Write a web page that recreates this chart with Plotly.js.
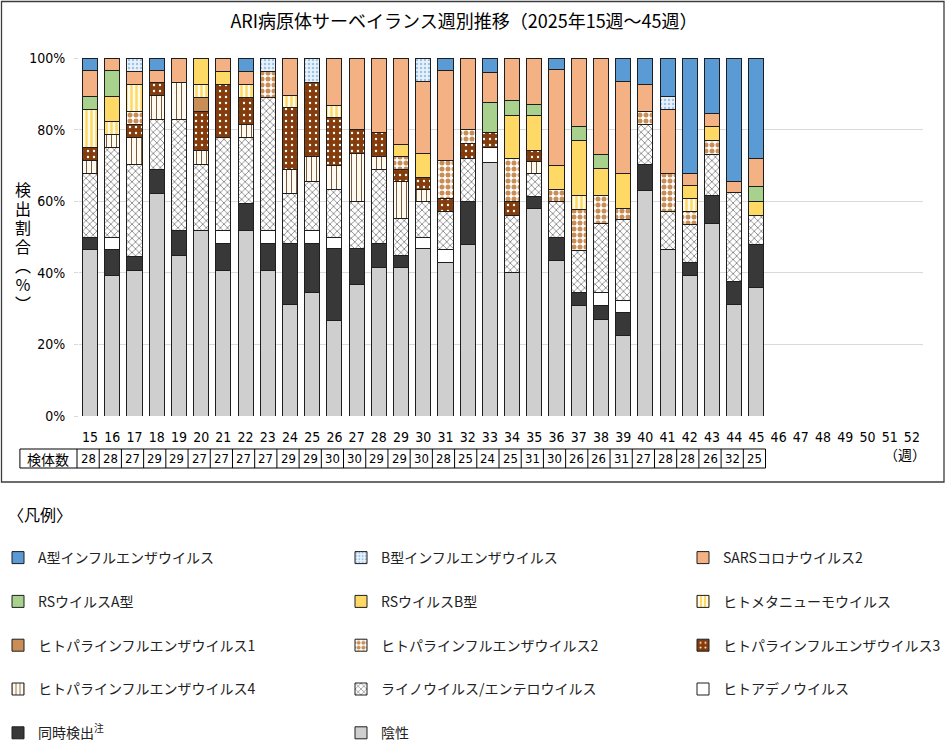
<!DOCTYPE html>
<html>
<head>
<meta charset="utf-8">
<script src="https://cdn.plot.ly/plotly-3.0.1.min.js"></script>
<style>
  html, body { margin: 0; padding: 0; background: #ffffff; }
  #chart { width: 946px; height: 746px; }
</style>
</head>
<body>
<div id="chart"></div>
<script>
// ---- data (counts of specimens per week) ----
const weeks = [15,16,17,18,19,20,21,22,23,24,25,26,27,28,29,30,31,32,33,34,35,36,37,38,39,40,41,42,43,44,45];
const weekTicks = [15,16,17,18,19,20,21,22,23,24,25,26,27,28,29,30,31,32,33,34,35,36,37,38,39,40,41,42,43,44,45,46,47,48,49,50,51,52];
const specimenCounts = [28,28,27,29,29,27,27,27,27,29,29,30,30,29,29,30,28,25,24,25,31,30,26,26,31,27,28,28,26,32,25];
const yTickVals = [0, 20, 40, 60, 80, 100];
const yTickText = ['0%', '20%', '40%', '60%', '80%', '100%'];

const fluA      = [1,0,0,1,0,0,0,1,0,0,0,0,0,0,0,0,1,0,1,0,0,1,0,0,2,2,3,9,4,11,7];
const fluB      = [0,0,1,0,0,0,0,0,1,0,2,0,0,0,0,2,0,0,0,0,0,0,0,0,0,0,1,0,0,0,0];
const sars2     = [2,1,1,1,2,0,1,1,0,3,0,4,6,6,7,6,7,5,2,3,4,8,5,7,8,2,5,1,1,1,2];
const rsvA      = [1,2,0,0,0,0,0,0,0,0,0,0,0,0,0,0,0,0,2,1,1,0,1,1,0,0,0,0,0,0,1];
const rsvB      = [0,2,0,0,0,2,1,0,0,0,0,0,0,0,1,2,0,0,0,3,3,2,4,2,3,0,0,1,1,0,1];
const hmpv      = [3,1,2,0,0,1,0,1,0,1,0,1,0,0,0,0,0,0,0,0,0,0,1,0,0,0,0,1,0,0,0];
const para1     = [0,0,0,0,0,1,0,0,0,0,0,0,0,0,0,0,0,0,0,0,0,0,0,0,0,0,0,0,0,0,0];
const para2     = [0,0,1,0,0,0,0,0,2,0,0,0,0,0,1,0,3,1,0,3,0,1,3,2,1,1,3,1,1,0,0];
const para3     = [1,0,1,1,0,3,4,2,0,5,6,4,2,2,1,1,1,1,1,1,1,0,0,0,0,0,0,0,0,0,0];
const para4     = [1,1,2,2,3,1,0,1,0,2,2,2,4,1,3,1,0,0,0,0,1,0,0,0,0,0,0,0,0,0,0];
const rhinoEntero = [5,7,7,4,9,5,7,5,10,4,4,4,4,6,3,3,3,3,0,4,2,3,3,5,7,3,3,3,3,8,2];
const adeno     = [0,1,0,0,0,0,1,0,1,0,1,1,0,0,0,1,1,0,1,0,0,0,0,1,1,0,0,0,0,0,0];
const coDetect  = [1,2,1,2,2,0,2,2,2,5,4,6,3,2,1,0,0,3,0,0,1,2,1,1,2,2,0,1,2,2,3];
const negative  = [13,11,11,18,13,14,11,14,11,9,10,8,11,12,12,14,12,12,17,10,18,13,8,7,7,17,13,11,14,10,9];

const titleText = 'ARI病原体サーベイランス週別推移（2025年15週～45週）';
const yTitleText = '検出割合（％）';
const tableHeader = '検体数';

// ---- geometry ----
const W = 946, H = 746, ML = 79, MR = 23, MT = 58, MB = 330;
const plotW = W - ML - MR, plotH = H - MT - MB;
const xMin = 14.5, xMax = 52.5;
const pxX = X => (X - ML) / plotW;
const pxY = Y => (H - MB - Y) / plotH;
const wkX = w => (w - xMin) / (xMax - xMin);

const JP = '"Noto Sans CJK JP", "Noto Sans", sans-serif';
const NARROW = '"Liberation Sans Narrow", "DejaVu Sans Condensed", "Noto Sans CJK JP", sans-serif';
const LINE = { color: '#1e1e1e', width: 1 };

function series(name, values, color, pattern, legend, rank) {
  const marker = { color: color, line: LINE };
  if (pattern) marker.pattern = pattern;
  return {
    type: 'bar', x: weeks, y: values, name: name,
    marker: marker, width: 0.68,
    legend: legend, legendgroup: name, legendrank: rank,
    hoverinfo: 'x+y+name'
  };
}

// stacking order: bottom first
const data = [
  series('陰性', negative, '#d0cfd0', null, 'legend2', 5),
  series('同時検出<sup>注</sup>', coDetect, '#383838', null, 'legend', 5),
  series('ヒトアデノウイルス', adeno, '#ffffff', null, 'legend3', 4),
  series('ライノウイルス/エンテロウイルス', rhinoEntero, '#ffffff',
    { shape: 'x', fgcolor: '#3a3a3a', bgcolor: '#ffffff', size: 5, solidity: 0.2 }, 'legend2', 4),
  series('ヒトパラインフルエンザウイルス4', para4, '#fffaf0',
    { shape: '|', fgcolor: '#6b4a2b', bgcolor: '#fffaf0', size: 5, solidity: 0.18 }, 'legend', 4),
  series('ヒトパラインフルエンザウイルス3', para3, '#843c0c',
    { shape: '.', fgcolor: '#ffffff', bgcolor: '#843c0c', size: 6, solidity: 0.12 }, 'legend3', 3),
  series('ヒトパラインフルエンザウイルス2', para2, '#ffffff',
    { shape: '.', fgcolor: '#c98d56', bgcolor: '#ffffff', size: 6, solidity: 0.55 }, 'legend2', 3),
  series('ヒトパラインフルエンザウイルス1', para1, '#c98d56', null, 'legend', 3),
  series('ヒトメタニューモウイルス', hmpv, '#fff6d5',
    { shape: '|', fgcolor: '#ffd966', bgcolor: '#fffbe8', size: 5, solidity: 0.5 }, 'legend3', 2),
  series('RSウイルスB型', rsvB, '#ffd966', null, 'legend2', 2),
  series('RSウイルスA型', rsvA, '#a9d18e', null, 'legend', 2),
  series('SARSコロナウイルス2', sars2, '#f4b183', null, 'legend3', 1),
  series('B型インフルエンザウイルス', fluB, '#deebf7',
    { shape: '.', fgcolor: '#9dc3e6', bgcolor: '#e9f2fb', size: 4, solidity: 0.3 }, 'legend2', 1),
  series('A型インフルエンザウイルス', fluA, '#5b9bd5', null, 'legend', 1)
];

// ---- table of specimen counts + frame ----
const shapes = [];
const annotations = [];
const tblTop = pxY(449), tblBot = pxY(468);
const shiftW = -2 / plotW * (xMax - xMin); // slight left offset seen in the reference table
const tblLeft = wkX(11.93 + shiftW);
const tblRight = wkX(weeks[weeks.length - 1] + 0.5 + shiftW);
shapes.push({ type: 'rect', xref: 'paper', yref: 'paper', x0: tblLeft, x1: tblRight, y0: tblBot, y1: tblTop, line: { color: '#000', width: 1 } });
weeks.forEach((w, i) => {
  const xl = wkX(w - 0.5 + shiftW);
  shapes.push({ type: 'line', xref: 'paper', yref: 'paper', x0: xl, x1: xl, y0: tblBot, y1: tblTop, line: { color: '#000', width: 1 } });
  annotations.push({ xref: 'paper', yref: 'paper', x: wkX(w + shiftW), y: (tblTop + tblBot) / 2,
    text: String(specimenCounts[i]), showarrow: false, xanchor: 'center', yanchor: 'middle',
    font: { family: NARROW, size: 13, color: '#000' } });
});
annotations.push({ xref: 'paper', yref: 'paper', x: (tblLeft + wkX(weeks[0] - 0.5 + shiftW)) / 2, y: (tblTop + tblBot) / 2,
  text: tableHeader, showarrow: false, xanchor: 'center', yanchor: 'middle',
  font: { family: JP, size: 14, color: '#000' } });

// outer frame of chart
shapes.push({ type: 'rect', xref: 'paper', yref: 'paper', x0: pxX(1.5), x1: pxX(944), y0: pxY(482), y1: pxY(1.5), line: { color: '#3c3c3c', width: 1.3 } });

// week unit
annotations.push({ xref: 'paper', yref: 'paper', x: pxX(928), y: pxY(454), xanchor: 'right', yanchor: 'middle',
  text: '（週）', showarrow: false, font: { family: JP, size: 14, color: '#000' } });
// legend heading
annotations.push({ xref: 'paper', yref: 'paper', x: pxX(6), y: pxY(514), xanchor: 'left', yanchor: 'middle',
  text: '〈凡例〉', showarrow: false, font: { family: JP, size: 16, color: '#000' } });

const legendBase = {
  orientation: 'v', xanchor: 'left', yanchor: 'top', y: pxY(542),
  traceorder: 'grouped', tracegroupgap: 22.6,
  font: { family: JP, size: 14, color: '#222' }, bgcolor: 'rgba(0,0,0,0)', borderwidth: 0
};

const layout = {
  width: W, height: H,
  margin: { l: ML, r: MR, t: MT, b: MB, pad: 0, autoexpand: false },
  paper_bgcolor: '#ffffff', plot_bgcolor: '#ffffff',
  barmode: 'stack', barnorm: 'percent',
  title: { text: titleText, x: 464 / W, xref: 'container', xanchor: 'center', y: 1 - 22 / H, yref: 'container', yanchor: 'middle',
    font: { family: JP, size: 18, color: '#000' } },
  xaxis: {
    type: 'linear', range: [xMin, xMax], tickmode: 'array', tickvals: weekTicks, ticktext: weekTicks.map(String),
    showgrid: false, zeroline: false, showline: false, ticks: 'outside', ticklen: 8, tickcolor: 'rgba(0,0,0,0)',
    tickfont: { family: NARROW, size: 14, color: '#000' }, fixedrange: true
  },
  yaxis: {
    range: [0, 100], tickmode: 'array', tickvals: yTickVals, ticktext: yTickText,
    showgrid: true, gridcolor: '#d9d9d9', gridwidth: 1, zeroline: false, showline: false,
    ticks: 'outside', ticklen: 4, tickcolor: '#d9d9d9', ticklabelstandoff: 6,
    tickfont: { family: NARROW, size: 14, color: '#000' }, fixedrange: true
  },
  showlegend: true,
  legend:  Object.assign({}, legendBase, { x: pxX(-2) }),
  legend2: Object.assign({}, legendBase, { x: pxX(341) }),
  legend3: Object.assign({}, legendBase, { x: pxX(683) }),
  shapes: shapes,
  annotations: annotations
};

Plotly.newPlot('chart', data, layout, { displayModeBar: false, staticPlot: true }).then(gd => {
  // y-axis title written vertically (upright CJK characters, as in the reference)
  const svg = gd.querySelector('svg.main-svg');
  const layer = svg.querySelector('.infolayer') || svg;
  const NS = 'http://www.w3.org/2000/svg';
  const t = document.createElementNS(NS, 'text');
  t.setAttribute('x', 23);
  t.setAttribute('y', 248);
  t.setAttribute('text-anchor', 'middle');
  t.setAttribute('class', 'ytitle-vertical');
  t.setAttribute('style', 'writing-mode: vertical-rl; text-orientation: mixed; font-family: ' + JP.replace(/"/g, "'") + '; font-size: 16px; fill: #000; letter-spacing: 3px;');
  t.textContent = yTitleText;
  layer.appendChild(t);
});
</script>
</body>
</html>
